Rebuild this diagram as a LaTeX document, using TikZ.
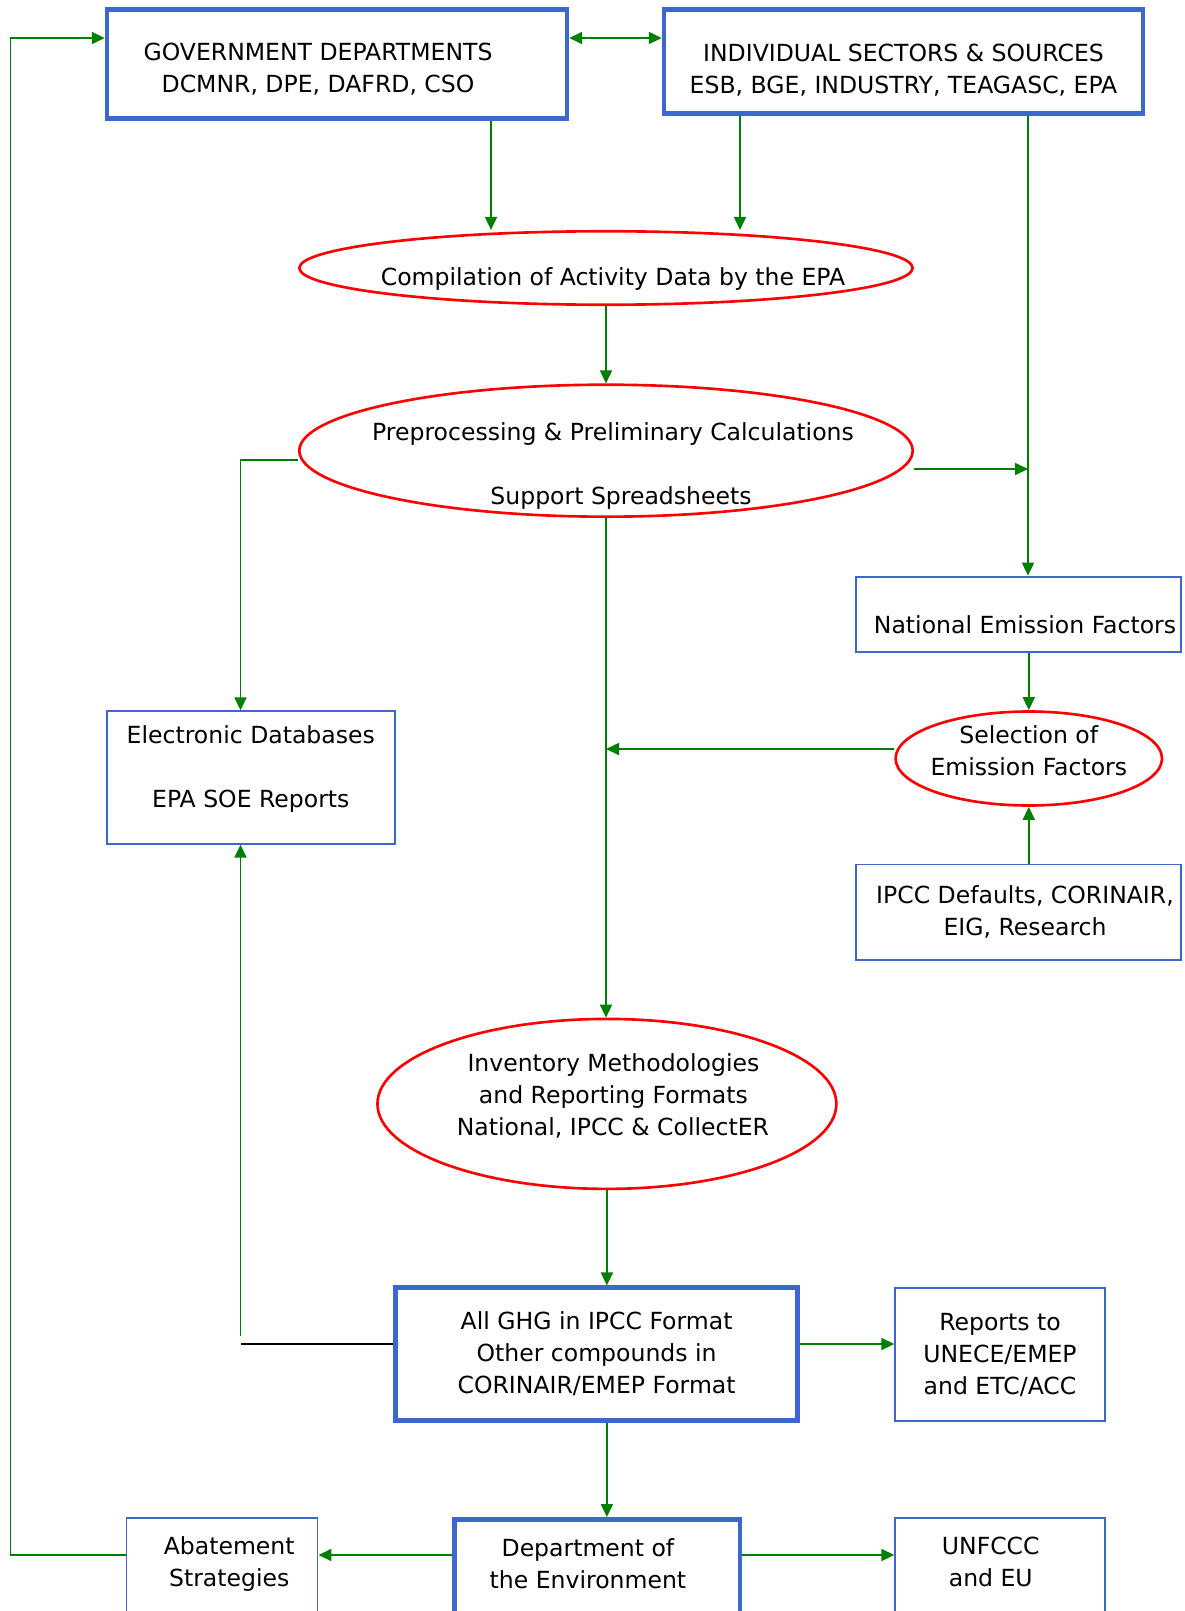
\documentclass[tikz,border=0pt]{standalone}
\usepackage{fontspec}
\setmainfont{DejaVu Sans}
\usepackage{tikz}
\usetikzlibrary{positioning, arrows.meta, shapes.geometric}

\definecolor{boxblue}{RGB}{60,104,206}
\definecolor{ovalred}{RGB}{255,0,0}
\definecolor{flowgreen}{RGB}{0,128,0}
\newcommand{\zw}[2][0pt]{\makebox[0pt]{\hspace*{#1}#2\hspace*{-#1}}}

\begin{document}
\begin{tikzpicture}[
    x=0.02cm, y=-0.02cm,
    every node/.style={font=\fontsize{13.4}{18.2}\selectfont, align=center},
    box/.style={rectangle, draw=boxblue, line width=1.1pt, inner sep=0pt},
    bigbox/.style={box, line width=2.6pt},
    oval/.style={ellipse, draw=ovalred, line width=1.5pt, inner sep=0pt},
    basebox/.style={anchor=north, text height=39.1pt, text depth=60pt},
    arr/.style={-{Triangle[length=2.6mm, width=2.4mm]}, draw=flowgreen, line width=1pt},
    dblarr/.style={arr, {Triangle[length=2.6mm, width=2.4mm]}-{Triangle[length=2.6mm, width=2.4mm]}},
    link/.style={draw=black, line width=1pt}
]
    \useasboundingbox (0,0) rectangle (1184,1611);

    \node[bigbox, minimum width=9.2cm, minimum height=2.18cm, text height=32.3pt, text depth=0pt] (gov) at (337,64) {GOVERNMENT DEPARTMENTS\hspace*{0.76cm}\\DCMNR, DPE, DAFRD, CSO\hspace*{0.76cm}};
    \node[bigbox, minimum width=9.58cm, minimum height=2.08cm, text height=35.9pt, text depth=0pt] (ind) at (903.5,61.5) {INDIVIDUAL SECTORS \& SOURCES\\ESB, BGE, INDUSTRY, TEAGASC, EPA};
    \node[oval, minimum width=12.27cm, minimum height=1.47cm, text height=19.8pt, text depth=0pt] (comp) at (606,268) {\zw[0.14cm]{Compilation of Activity Data by the EPA}};
    \node[oval, minimum width=12.27cm, minimum height=2.64cm, text height=61pt, text depth=0pt, inner ysep=-10pt] (prep) at (606,450.7) {\zw[0.14cm]{Preprocessing \& Preliminary Calculations}\\[18.2pt]\zw[0.3cm]{Support Spreadsheets}};
    \node[box, minimum width=6.5cm, minimum height=1.5cm, text height=22.4pt, text depth=0pt] (nef) at (1018.5,614.1) {\hspace*{0.26cm}National Emission Factors};
    \node[oval, minimum width=5.33cm, minimum height=1.88cm, text height=19pt, text depth=0pt] (sel) at (1028.8,758.5) {\zw{Selection of}\\\zw{Emission Factors}};
    \node[box, minimum width=6.5cm, minimum height=1.91cm] (ipcc) at (1018.5,912.2) {\hspace*{0.26cm}IPCC Defaults, CORINAIR,\\\hspace*{0.26cm}EIG, Research};
    \node[box, minimum width=5.76cm, minimum height=2.65cm, text height=34pt, text depth=0pt] (elec) at (250.8,777.5) {Electronic Databases\\[18.2pt]EPA SOE Reports};
    \node[oval, minimum width=9.18cm, minimum height=3.4cm, text height=36.2pt, text depth=0pt] (inv) at (606.9,1103.9) {\zw[0.13cm]{Inventory Methodologies}\\\zw[0.13cm]{and Reporting Formats}\\\zw[0.12cm]{National, IPCC \& CollectER}};
    \node[bigbox, minimum width=8.04cm, minimum height=2.65cm] (ghg) at (596.6,1354) {All GHG in IPCC Format\\Other compounds in\\CORINAIR/EMEP Format};
    \node[box, minimum width=4.19cm, minimum height=2.67cm] (rep) at (1000,1354.6) {Reports to\\UNECE/EMEP\\and ETC/ACC};
    \node[bigbox, basebox, minimum width=5.72cm] (dept) at (597.2,1517) {Department of\hspace*{0.37cm}\\the Environment\hspace*{0.37cm}};
    \node[box, basebox, minimum width=3.82cm] (abate) at (222,1517) {\hspace*{0.29cm}Abatement\\\hspace*{0.29cm}Strategies};
    \node[box, basebox, minimum width=4.19cm] (unf) at (1000,1517) {UNFCCC\hspace*{0.37cm}\\and EU\hspace*{0.37cm}};

    \coordinate (linktop) at (10.5,38);
    \coordinate (linkbot) at (10.5,1555);
    \coordinate (govdrop) at (491,0);
    \coordinate (inddrop) at (740,0);
    \coordinate (efdrop) at (1028,469);
    \coordinate (dbbend) at (240.5,460);
    \coordinate (dbtap) at (240.5,1344);
    \coordinate (dbup) at (240.5,1336);
    \coordinate (selmeet) at (606,749);

    \draw[dblarr] (gov.east |- linktop) -- (ind.west |- linktop);
    \draw[arr] (abate.west |- linkbot) -- (linkbot) -- (linktop) -- (gov.west |- linktop);
    \draw[arr] (gov.south -| govdrop) -- (comp.north -| govdrop);
    \draw[arr] (ind.south -| inddrop) -- (comp.north -| inddrop);
    \draw[arr] (ind.south -| efdrop) -- (nef.north -| efdrop);
    \draw[arr] (comp.south) -- (prep.north);
    \draw[arr] (prep.east |- efdrop) -- (efdrop);
    \draw[arr] (prep.west |- dbbend) -- (dbbend) -- (elec.north -| dbbend);
    \draw[arr] (prep.south) -- (inv.north -| prep.south);
    \draw[arr] (nef.south -| sel.north) -- (sel.north);
    \draw[arr] (ipcc.north -| sel.south) -- (sel.south);
    \draw[arr] (sel.west |- selmeet) -- (selmeet);
    \draw[arr] (inv.south) -- (ghg.north -| inv.south);
    \draw[arr] (ghg.east |- dbtap) -- (rep.west |- dbtap);
    \draw[link] (ghg.west |- dbtap) -- (dbtap);
    \draw[arr] (dbup) -- (elec.south -| dbup);
    \draw[arr] (ghg.south -| inv.south) -- (dept.north -| inv.south);
    \draw[arr] (dept.west |- linkbot) -- (abate.east |- linkbot);
    \draw[arr] (dept.east |- linkbot) -- (unf.west |- linkbot);
\end{tikzpicture}
\end{document}
